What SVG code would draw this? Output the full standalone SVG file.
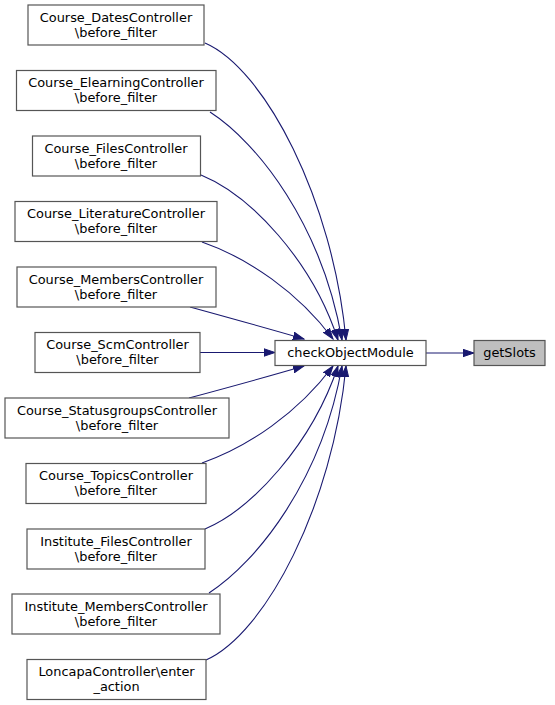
<svg xmlns="http://www.w3.org/2000/svg" width="555" height="705" viewBox="0 0 555 705">
<style>
.n rect{fill:#ffffff;stroke:#555555;stroke-width:1.2}
.n text{font-family:"DejaVu Sans",sans-serif;font-size:12.9px;fill:#000000;text-anchor:middle}
.e path{fill:none;stroke:#191970;stroke-width:1.1;marker-end:url(#ah)}
</style>
<defs>
<marker id="ah" markerUnits="userSpaceOnUse" markerWidth="12" markerHeight="9" refX="11" refY="4.5" orient="auto" viewBox="0 0 12 9">
<path d="M0,0.8 L11,4.5 L0,8.2 z" fill="#191970" stroke="#191970" stroke-width="1"/>
</marker>
</defs>
<rect width="555" height="705" fill="#ffffff"/>
<g id="connectors" class="e">
<path d="M205,43 C265,69 333,200 346,340"/>
<path d="M210,112 C258,143 322,225 342,340"/>
<path d="M201,175 C250,195 312,260 338,340"/>
<path d="M202,242 C248,258 298,292 333,339"/>
<path d="M190,307 C230,318 270,329 304,339"/>
<path d="M200,352.5 L275,352.5"/>
<path d="M189,398 C230,387 270,376 304,366"/>
<path d="M202,463 C248,447 298,413 333,366"/>
<path d="M205,529 C252,509 312,444 338,366"/>
<path d="M209,593 C257,562 322,480 342,366"/>
<path d="M206,660 C265,634 333,505 346,366"/>
<path d="M426,353 L474,353"/>
</g>
<g id="node_dates" class="n"><rect x="28" y="5" width="176" height="40"/><text x="116" y="21.5">Course_DatesController</text><text x="116" y="36.5">\before_filter</text></g>
<g id="node_elearning" class="n"><rect x="16.5" y="70.5" width="199.5" height="40"/><text x="116" y="87">Course_ElearningController</text><text x="116" y="102">\before_filter</text></g>
<g id="node_files" class="n"><rect x="32.5" y="136" width="168" height="40"/><text x="116" y="152.5">Course_FilesController</text><text x="116" y="167.5">\before_filter</text></g>
<g id="node_literature" class="n"><rect x="15" y="201.5" width="202" height="40"/><text x="116" y="218">Course_LiteratureController</text><text x="116" y="233">\before_filter</text></g>
<g id="node_members" class="n"><rect x="17" y="267" width="199" height="40"/><text x="116" y="283.5">Course_MembersController</text><text x="116" y="298.5">\before_filter</text></g>
<g id="node_scm" class="n"><rect x="35" y="332.5" width="165" height="40"/><text x="117.5" y="349">Course_ScmController</text><text x="117.5" y="364">\before_filter</text></g>
<g id="node_statusgroups" class="n"><rect x="5" y="398" width="224" height="40"/><text x="117" y="414.5">Course_StatusgroupsController</text><text x="117" y="429.5">\before_filter</text></g>
<g id="node_topics" class="n"><rect x="26" y="463.5" width="180" height="40"/><text x="116" y="480">Course_TopicsController</text><text x="116" y="495">\before_filter</text></g>
<g id="node_inst_files" class="n"><rect x="27" y="529" width="178" height="40"/><text x="116" y="545.5">Institute_FilesController</text><text x="116" y="560.5">\before_filter</text></g>
<g id="node_inst_members" class="n"><rect x="12" y="594" width="208" height="40"/><text x="116" y="610.5">Institute_MembersController</text><text x="116" y="625.5">\before_filter</text></g>
<g id="node_loncapa" class="n"><rect x="27" y="659.5" width="179" height="40"/><text x="116.5" y="676">LoncapaController\enter</text><text x="116.5" y="691">_action</text></g>
<g id="node_check" class="n"><rect x="275" y="340.5" width="151" height="25"/><text x="350.5" y="356.5">checkObjectModule</text></g>
<g id="node_getslots" class="n"><rect x="474" y="340.5" width="71" height="25" style="fill:#bfbfbf"/><text x="509.5" y="356.5">getSlots</text></g>
</svg>
